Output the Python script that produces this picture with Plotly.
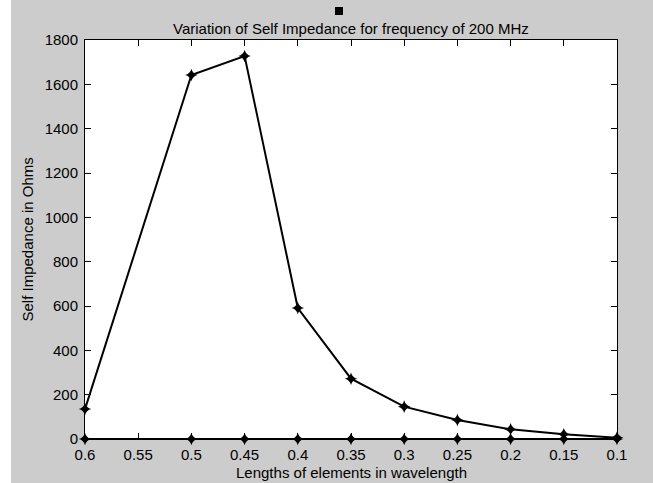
import plotly.graph_objects as go

# Data
lengths = [0.6, 0.5, 0.45, 0.4, 0.35, 0.3, 0.25, 0.2, 0.15, 0.1]
impedance = [135, 1642, 1728, 591, 272, 146, 86, 44, 21, 6]
zero_line = [0, 0, 0, 0, 0, 0, 0, 0, 0, 0]
x_ticks = [0.6, 0.55, 0.5, 0.45, 0.4, 0.35, 0.3, 0.25, 0.2, 0.15, 0.1]
x_ticktext = ["0.6", "0.55", "0.5", "0.45", "0.4", "0.35", "0.3", "0.25", "0.2", "0.15", "0.1"]
y_ticks = [0, 200, 400, 600, 800, 1000, 1200, 1400, 1600, 1800]

W, H = 653, 483
L, R, T, B = 85, 36, 40, 44
pw, ph = W - L - R, H - T - B

def px_x(p):
    return (p - L) / pw

def px_y(p):
    return (H - B - p) / ph

font = dict(family="Liberation Sans, Arial, sans-serif", size=15, color="black")

fig = go.Figure()
fig.add_trace(go.Scatter(
    x=lengths, y=zero_line, mode="lines+markers",
    line=dict(color="black", width=2),
    marker=dict(symbol="star-diamond", size=9, color="black"),
    cliponaxis=False, showlegend=False))
fig.add_trace(go.Scatter(
    x=lengths, y=impedance, mode="lines+markers",
    line=dict(color="black", width=2),
    marker=dict(symbol="star-diamond", size=9, color="black"),
    cliponaxis=False, showlegend=False))

fig.update_layout(
    width=W, height=H,
    margin=dict(l=L, r=R, t=T, b=B, pad=0),
    paper_bgcolor="white",
    plot_bgcolor="white",
    font=font,
    xaxis=dict(range=[0.6, 0.1], tickvals=x_ticks, ticktext=x_ticktext,
               ticks="inside", ticklen=6, tickcolor="black",
               showline=True, linecolor="black", linewidth=1, mirror="ticks",
               showgrid=False, zeroline=False, tickfont=font, ticklabelstandoff=2),
    yaxis=dict(range=[0, 1800], tickvals=y_ticks,
               ticks="inside", ticklen=6, tickcolor="black",
               showline=True, linecolor="black", linewidth=1, mirror="ticks",
               showgrid=False, zeroline=False, tickfont=font, ticklabelstandoff=3),
    shapes=[
        dict(type="rect", xref="paper", yref="paper", layer="below",
             x0=px_x(11), x1=px_x(W + 5), y0=px_y(H + 5), y1=px_y(-5),
             fillcolor="#cccccc", line=dict(width=0)),
        dict(type="rect", xref="paper", yref="paper", layer="below",
             x0=0, x1=1, y0=0, y1=1, fillcolor="white", line=dict(width=0)),
        dict(type="rect", xref="paper", yref="paper",
             x0=px_x(335), x1=px_x(343), y0=px_y(15), y1=px_y(7),
             fillcolor="black", line=dict(width=0)),
    ],
    annotations=[
        dict(text="Variation of Self Impedance for frequency of 200 MHz",
             xref="paper", yref="paper", x=0.5, y=px_y(29),
             xanchor="center", yanchor="middle", showarrow=False, font=font),
        dict(text="Lengths of elements in wavelength",
             xref="paper", yref="paper", x=0.5, y=px_y(473),
             xanchor="center", yanchor="middle", showarrow=False, font=font),
        dict(text="Self Impedance in Ohms", textangle=-90,
             xref="paper", yref="paper", x=px_x(27), y=0.5,
             xanchor="center", yanchor="middle", showarrow=False, font=font),
    ],
)

fig.write_html("out.html")
